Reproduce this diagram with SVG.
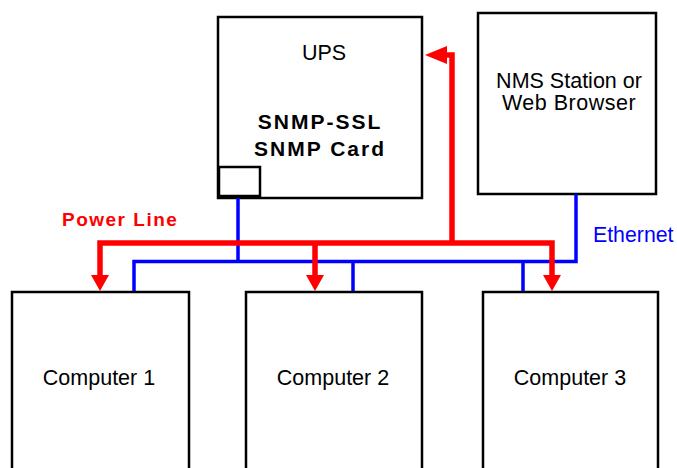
<svg xmlns="http://www.w3.org/2000/svg" width="677" height="468" viewBox="0 0 677 468">
<style>
.box{fill:#fff;stroke:#000;stroke-width:2.5}
.t{font-family:"Liberation Sans",Arial,sans-serif;font-size:21.5px;fill:#000;text-anchor:middle}
.b{font-family:"Liberation Sans",Arial,sans-serif;font-weight:bold;font-size:21px;letter-spacing:2px;fill:#000;text-anchor:middle}
.pw{fill:none;stroke:#ff0000;stroke-width:5.5;stroke-linejoin:miter;stroke-linecap:butt}
.eth{fill:none;stroke:#0000ff;stroke-width:3.5;stroke-linecap:butt}
.ah{fill:#ff0000}
</style>
<rect width="677" height="468" fill="#fff"/>
<g id="ups">
<rect class="box" x="218" y="17" width="204" height="181"/>
<rect class="box" x="219" y="167" width="41" height="29"/>
<text class="t" x="324" y="60" font-size="21">UPS</text>
<text class="b" x="320" y="129">SNMP-SSL</text>
<text class="b" x="320" y="156">SNMP Card</text>
</g>
<g id="nms">
<rect class="box" x="478" y="13" width="178" height="181"/>
<text class="t" x="569" y="88">NMS Station or</text>
<text class="t" x="569" y="110" letter-spacing="0.5">Web Browser</text>
</g>
<g id="computer1">
<rect class="box" x="12" y="292" width="177" height="190"/>
<text class="t" x="99" y="385">Computer 1</text>
</g>
<g id="computer2">
<rect class="box" x="246" y="292" width="176" height="190"/>
<text class="t" x="333" y="385">Computer 2</text>
</g>
<g id="computer3">
<rect class="box" x="483" y="292" width="175" height="190"/>
<text class="t" x="570" y="385">Computer 3</text>
</g>
<g id="connectors">
<path class="eth" d="M238 198V261.5M134 291V261.5H576V194M353 261.5V291M523 261.5V291"/>
<path class="pw" d="M100 277V243H552V277M315 243V277M452 243V55H446"/>
<polygon class="ah" points="91,275 109,275 100,291"/>
<polygon class="ah" points="306,275 324,275 315,291"/>
<polygon class="ah" points="543,275 561,275 552,291"/>
<polygon class="ah" points="447,46 447,64 425,55"/>
</g>
<text x="62" y="226" font-family="Liberation Sans,Arial,sans-serif" font-weight="bold" font-size="19" letter-spacing="1.5" fill="#ff0000">Power Line</text>
<text x="593" y="242" font-family="Liberation Sans,Arial,sans-serif" font-size="21.3" fill="#0000ff">Ethernet</text>
</svg>
